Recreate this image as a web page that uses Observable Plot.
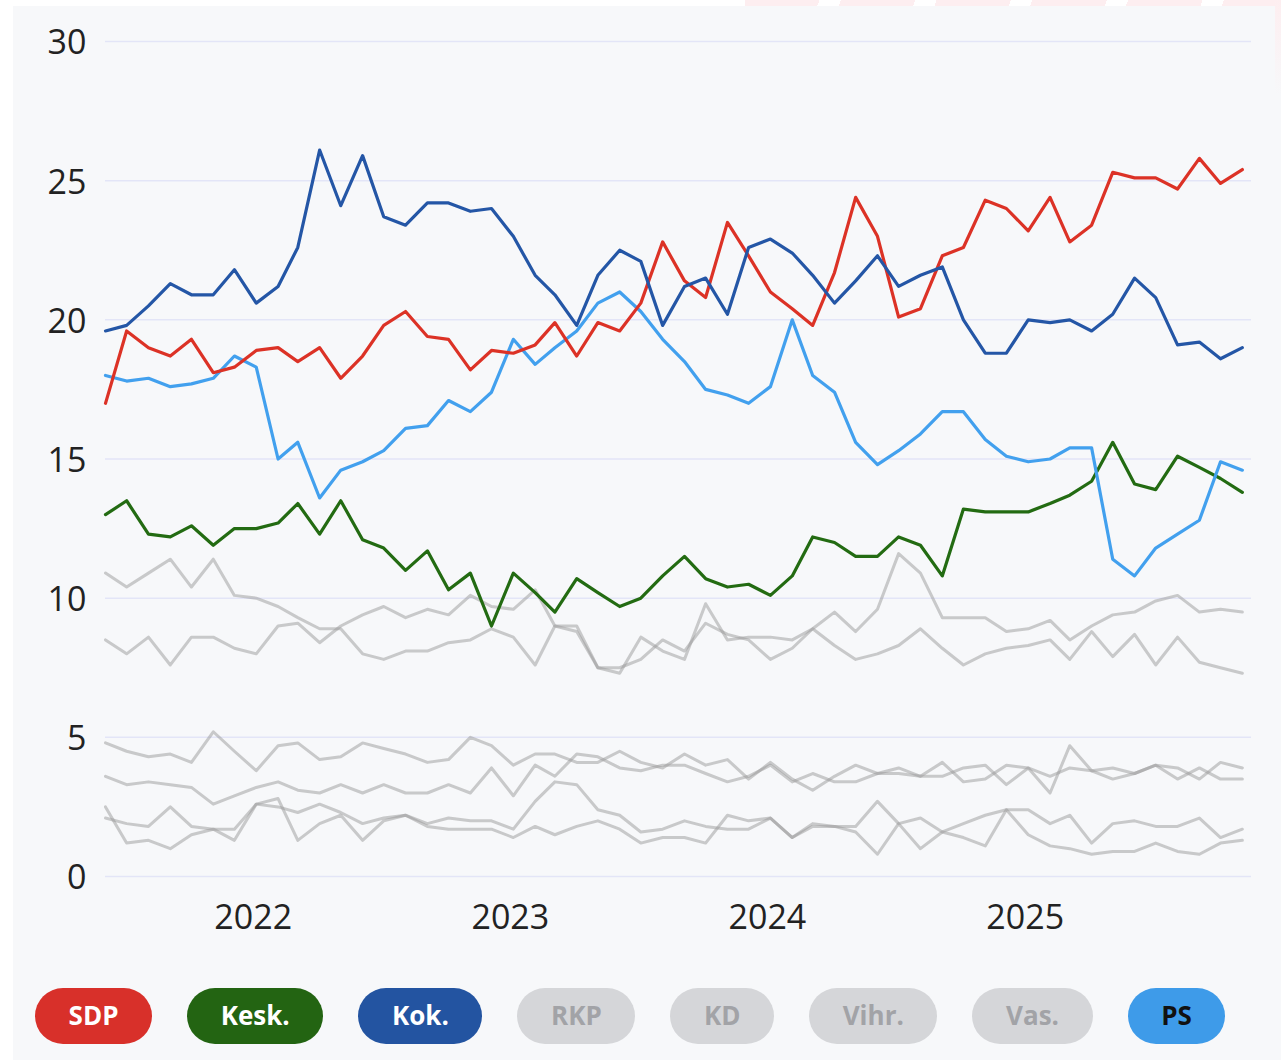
<!DOCTYPE html>
<html><head><meta charset="utf-8">
<script src="https://cdn.jsdelivr.net/npm/d3@7"></script>
<script src="https://cdn.jsdelivr.net/npm/@observablehq/plot@0.6"></script>
<style>
html,body{margin:0;padding:0;background:#fff;width:1281px;height:1060px;overflow:hidden;position:relative;}
#panel{position:absolute;left:13px;top:6px;width:1268px;height:1054px;background:#f7f8fa;}
#deco{position:absolute;left:745px;top:0;width:536px;height:6px;background:repeating-linear-gradient(110deg,#fdeef0 0 70px,#ffffff 70px 90px);}
#deco2{position:absolute;left:1275px;top:0;width:6px;height:95px;background:linear-gradient(#fdeef0,#f7f8fa);}
#chart{position:absolute;left:0;top:0;}
#legend{position:absolute;left:35px;top:988px;display:flex;gap:35px;}
.pill{box-sizing:border-box;height:56px;padding:0 33.6px;border-radius:28px;font:700 26px "Open Sans",sans-serif;white-space:nowrap;}
.pill span{display:block;line-height:1;margin-top:14px;}
</style></head>
<body>
<div id="panel"></div><div id="deco"></div><div id="deco2"></div>
<div id="chart"></div>
<div id="legend"></div>
<script>
// Monthly polls, June 2021 – November 2025
const months = d3.utcMonth.range(new Date(Date.UTC(2021,5,1)), new Date(Date.UTC(2025,11,1)));

const sdp  = [17.0,19.6,19.0,18.7,19.3,18.1,18.3,18.9,19.0,18.5,19.0,17.9,18.7,19.8,20.3,19.4,19.3,18.2,18.9,18.8,19.1,19.9,18.7,19.9,19.6,20.6,22.8,21.4,20.8,23.5,22.3,21.0,20.4,19.8,21.7,24.4,23.0,20.1,20.4,22.3,22.6,24.3,24.0,23.2,24.4,22.8,23.4,25.3,25.1,25.1,24.7,25.8,24.9,25.4];
const kok  = [19.6,19.8,20.5,21.3,20.9,20.9,21.8,20.6,21.2,22.6,26.1,24.1,25.9,23.7,23.4,24.2,24.2,23.9,24.0,23.0,21.6,20.9,19.8,21.6,22.5,22.1,19.8,21.2,21.5,20.2,22.6,22.9,22.4,21.6,20.6,21.4,22.3,21.2,21.6,21.9,20.0,18.8,18.8,20.0,19.9,20.0,19.6,20.2,21.5,20.8,19.1,19.2,18.6,19.0];
const ps   = [18.0,17.8,17.9,17.6,17.7,17.9,18.7,18.3,15.0,15.6,13.6,14.6,14.9,15.3,16.1,16.2,17.1,16.7,17.4,19.3,18.4,19.0,19.6,20.6,21.0,20.3,19.3,18.5,17.5,17.3,17.0,17.6,20.0,18.0,17.4,15.6,14.8,15.3,15.9,16.7,16.7,15.7,15.1,14.9,15.0,15.4,15.4,11.4,10.8,11.8,12.3,12.8,14.9,14.6];
const kesk = [13.0,13.5,12.3,12.2,12.6,11.9,12.5,12.5,12.7,13.4,12.3,13.5,12.1,11.8,11.0,11.7,10.3,10.9,9.0,10.9,10.2,9.5,10.7,10.2,9.7,10.0,10.8,11.5,10.7,10.4,10.5,10.1,10.8,12.2,12.0,11.5,11.5,12.2,11.9,10.8,13.2,13.1,13.1,13.1,13.4,13.7,14.2,15.6,14.1,13.9,15.1,14.7,14.3,13.8];
const vihr = [10.9,10.4,10.9,11.4,10.4,11.4,10.1,10.0,9.7,9.3,8.9,8.9,8.0,7.8,8.1,8.1,8.4,8.5,8.9,8.6,7.6,9.0,8.8,7.5,7.5,7.8,8.5,8.1,9.1,8.7,8.5,7.8,8.2,8.9,8.3,7.8,8.0,8.3,8.9,8.2,7.6,8.0,8.2,8.3,8.5,7.8,8.8,7.9,8.7,7.6,8.6,7.7,7.5,7.3];
const vas  = [8.5,8.0,8.6,7.6,8.6,8.6,8.2,8.0,9.0,9.1,8.4,9.0,9.4,9.7,9.3,9.6,9.4,10.1,9.7,9.6,10.3,9.0,9.0,7.5,7.3,8.6,8.1,7.8,9.8,8.5,8.6,8.6,8.5,8.9,9.5,8.8,9.6,11.6,10.9,9.3,9.3,9.3,8.8,8.9,9.2,8.5,9.0,9.4,9.5,9.9,10.1,9.5,9.6,9.5];
const rkp  = [4.8,4.5,4.3,4.4,4.1,5.2,4.5,3.8,4.7,4.8,4.2,4.3,4.8,4.6,4.4,4.1,4.2,5.0,4.7,4.0,4.4,4.4,4.1,4.1,4.5,4.1,3.9,4.4,4.0,4.2,3.5,4.1,3.5,3.1,3.6,4.0,3.7,3.9,3.6,4.1,3.4,3.5,4.0,3.9,3.6,3.9,3.8,3.9,3.7,4.0,3.9,3.5,4.1,3.9];
const kd   = [3.6,3.3,3.4,3.3,3.2,2.6,2.9,3.2,3.4,3.1,3.0,3.3,3.0,3.3,3.0,3.0,3.3,3.0,3.9,2.9,4.0,3.6,4.4,4.3,3.9,3.8,4.0,4.0,3.7,3.4,3.6,4.0,3.4,3.7,3.4,3.4,3.7,3.7,3.6,3.6,3.9,4.0,3.3,3.9,3.0,4.7,3.8,3.5,3.7,4.0,3.5,3.9,3.5,3.5];
const liik = [2.1,1.9,1.8,2.5,1.8,1.7,1.7,2.6,2.5,2.3,2.6,2.3,1.9,2.1,2.2,1.9,2.1,2.0,2.0,1.7,2.7,3.4,3.3,2.4,2.2,1.6,1.7,2.0,1.8,1.7,1.7,2.1,1.4,1.9,1.8,1.8,2.7,1.9,2.1,1.6,1.4,1.1,2.4,2.4,1.9,2.2,1.2,1.9,2.0,1.8,1.8,2.1,1.4,1.7];
const muut = [2.5,1.2,1.3,1.0,1.5,1.7,1.3,2.6,2.8,1.3,1.9,2.2,1.3,2.0,2.2,1.8,1.7,1.7,1.7,1.4,1.8,1.5,1.8,2.0,1.7,1.2,1.4,1.4,1.2,2.2,2.0,2.1,1.4,1.8,1.8,1.6,0.8,1.9,1.0,1.6,1.9,2.2,2.4,1.5,1.1,1.0,0.8,0.9,0.9,1.2,0.9,0.8,1.2,1.3];

const yTicks = [0,5,10,15,20,25,30];
const yearTicks = [2022,2023,2024,2025];

// legend buttons
const legendNames  = ["SDP","Kesk.","Kok.","RKP","KD","Vihr.","Vas.","PS"];
const legendFill   = ["#d8302a","#236412","#2354a1","#d5d6d9","#d5d6d9","#d5d6d9","#d5d6d9","#3e9be9"];
const legendText   = ["#ffffff","#ffffff","#ffffff","#a2a3a7","#a2a3a7","#a2a3a7","#a2a3a7","#111111"];

const colored = [
  {party:"Kesk.", values:kesk, color:"#236b12"},
  {party:"PS", values:ps, color:"#42a0ee"},
  {party:"SDP", values:sdp, color:"#dc3226"},
  {party:"Kok.", values:kok, color:"#2456a6"}
];
const grays = [
  {party:"Vihr.", values:vihr},
  {party:"Vas.", values:vas},
  {party:"RKP", values:rkp},
  {party:"KD", values:kd},
  {party:"Liik.", values:liik},
  {party:"Muut", values:muut}
];
const toRows = s => s.values.map((v,i) => ({date: months[i], value: v, party: s.party}));
const grayRows = grays.flatMap(toRows);

const chart = Plot.plot({
  width: 1281, height: 960,
  marginLeft: 105, marginRight: 30, marginTop: 41, marginBottom: 84,
  style: {background: "transparent", fontFamily: "'Open Sans', 'Noto Sans', sans-serif", fontSize: "34px", color: "#222", overflow: "visible"},
  x: {type: "utc", domain: [new Date(Date.UTC(2021,5,1)), new Date(Date.UTC(2025,10,14))]},
  y: {domain: [0, 30]},
  marks: [
    Plot.gridY(yTicks, {stroke: "#e3e5f7", strokeOpacity: 1, strokeWidth: 1.5}),
    Plot.axisY(yTicks, {tickSize: 0, tickPadding: 19, fontSize: 34, label: null, fill: "#222", dy: 2}),
    Plot.axisX(yearTicks.map(y => new Date(Date.UTC(y,0,1))), {tickSize: 0, tickPadding: 28, fontSize: 34, tickFormat: d3.utcFormat("%Y"), label: null, fill: "#222", dx: -3}),
    Plot.lineY(grayRows, {x: "date", y: "value", z: "party", stroke: "#999999", strokeOpacity: 0.5, strokeWidth: 3}),
    ...colored.map(s => Plot.lineY(toRows(s), {x: "date", y: "value", stroke: s.color, strokeWidth: 3.2}))
  ]
});
document.getElementById("chart").appendChild(chart);

const legend = document.getElementById("legend");
legendNames.forEach((n,i) => {
  const d = document.createElement("div");
  d.className = "pill";
  const sp = document.createElement("span");
  sp.textContent = n;
  d.appendChild(sp);
  d.style.background = legendFill[i];
  d.style.color = legendText[i];
  legend.appendChild(d);
});
</script>
</body></html>
